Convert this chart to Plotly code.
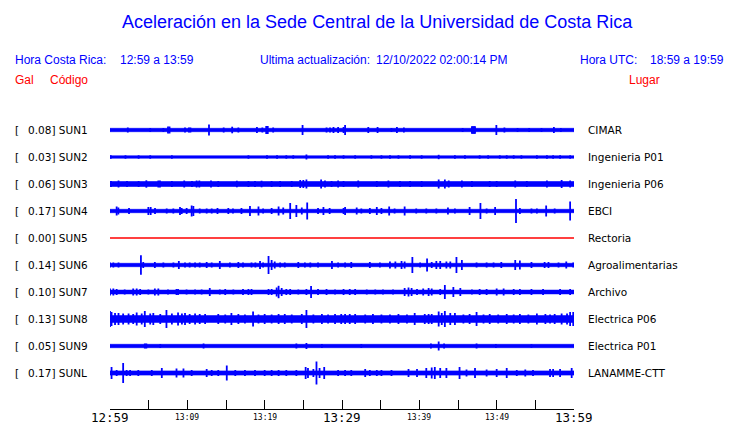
import plotly.graph_objects as go

# ---------------- data ----------------
CODES = ["SUN1", "SUN2", "SUN3", "SUN4", "SUN5", "SUN6", "SUN7", "SUN8", "SUN9", "SUNL"]
PLACES = ["CIMAR", "Ingenieria P01", "Ingenieria P06", "EBCI", "Rectoria",
          "Agroalimentarias", "Archivo", "Electrica P06", "Electrica P01", "LANAMME-CTT"]
PEAK_GAL = [0.08, 0.03, 0.06, 0.17, 0.00, 0.14, 0.10, 0.13, 0.05, 0.17]
# background noise half-amplitude of each trace (display units, 27 = trace spacing)
BASE_AMP = [1.7, 1.2, 2.5, 1.7, 0.0, 1.7, 1.9, 3.4, 1.7, 2.1]

# bursts: (minutes after 12:59, half-amplitude in display units)
SPK_SUN1 = [(2.3, 2.5), (5.2, 2), (6.9, 2), (7.5, 3.5), (7.7, 3.5), (9.7, 2.5), (10.2, 2.5), (10.4, 2.5),
            (12.8, 5.5), (14.7, 2.5), (15.8, 3.3), (16.6, 2.5), (19.0, 3), (19.7, 2.5), (20.2, 4),
            (20.4, 4), (21.1, 2.5), (24.9, 5), (28.0, 2.5), (28.45, 2.5), (28.9, 3), (29.5, 3),
            (30.2, 3), (30.4, 5), (33.4, 3), (34.6, 3), (36.4, 2), (37.1, 3), (38.0, 2.5), (45.6, 2),
            (46.8, 3.7), (46.9, 3.7), (47.0, 3.7), (47.1, 3.7), (47.2, 3.7), (49.96, 5), (51.0, 2.5),
            (52.7, 2), (54.2, 2), (55.8, 2), (57.4, 3), (58.3, 2)]
SPK_SUN2 = [(0.1, 1.7), (2.0, 1.7), (3.7, 1.7), (5.2, 1.7), (8.0, 1.7), (17.9, 1.7), (20.3, 1.7),
            (21.6, 1.7), (22.8, 1.7), (23.7, 1.7), (25.4, 2.5), (28.2, 1.7), (29.1, 1.7), (30.2, 1.7),
            (31.7, 1.7), (33.8, 1.7), (35.1, 1.7), (36.2, 1.7), (37.3, 1.7), (38.8, 1.7), (40.3, 1.7),
            (42.5, 2.2), (44.6, 1.7), (45.9, 1.7), (47.8, 1.7), (48.9, 1.7), (50.4, 1.7), (51.3, 1.7),
            (52.2, 1.7), (53.2, 1.7), (55.2, 1.7), (56.5, 1.7), (57.3, 1.7), (58.2, 1.7), (59.5, 1.7)]
SPK_SUN3 = [(0.13, 3), (1.1, 3.5), (2.2, 3), (3.7, 3), (4.7, 3.7), (6.25, 3.5), (6.46, 3.5), (8.0, 3),
            (9.6, 3.5), (10.6, 3), (11.2, 3.5), (11.55, 3.5), (13.06, 3.5), (14.0, 3), (16.4, 3.3),
            (17.9, 3), (18.75, 3), (19.6, 3.3), (20.9, 3), (22.0, 3), (23.5, 3), (24.6, 4), (25.0, 4),
            (25.4, 4.5), (27.3, 4.5), (27.8, 3.5), (28.65, 3), (29.5, 3.5), (30.2, 3), (32.1, 3.5),
            (34.5, 3), (36.0, 3.5), (37.5, 3), (38.8, 3), (40.3, 3), (42.5, 4.5), (43.3, 4.5),
            (43.8, 3.5), (45.5, 3.5), (46.8, 3), (49.1, 3), (50.0, 3), (52.4, 3.5), (53.9, 3),
            (56.5, 3.5), (58.4, 4), (59.5, 3.5)]
SPK_SUN4 = [(0.86, 4.5), (1.08, 3.5), (2.46, 3), (4.96, 4), (5.26, 4), (5.82, 3), (7.33, 2.5),
            (8.19, 2.5), (9.05, 4), (9.27, 3), (9.91, 3), (10.56, 5.5), (10.78, 5), (11.6, 2.5),
            (12.5, 2.5), (13.15, 2.5), (13.9, 3), (15.3, 3), (15.9, 2.5), (17.0, 3), (18.1, 5),
            (19.2, 4.5), (19.8, 2.5), (20.9, 3), (21.8, 4.5), (22.4, 3.5), (23.3, 8), (24.1, 6),
            (24.8, 3.5), (25.5, 8.5), (26.9, 3), (27.6, 4), (28.4, 3), (30.2, 3), (30.4, 4),
            (31.9, 3.5), (32.5, 2.5), (33.6, 3), (34.5, 4), (35.1, 3), (36.1, 4.5), (36.8, 2.5),
            (38.1, 4.5), (39.6, 2.5), (40.9, 2.5), (42.2, 2.5), (43.7, 3.5), (44.6, 2.5), (46.5, 4),
            (47.9, 8), (48.7, 2.5), (49.8, 4), (52.5, 12), (53.0, 3), (54.5, 2.5), (55.2, 2.5),
            (56.4, 5.5), (57.5, 2.5), (59.5, 9.5)]
SPK_SUN5 = []
SPK_SUN6 = [(0.0, 2.5), (0.43, 2.5), (1.1, 2.5), (4.0, 9.7), (4.3, 3), (5.8, 3), (6.9, 2.5), (8.2, 2.5),
            (8.9, 4), (9.7, 2.5), (10.3, 2.5), (11.0, 2.5), (11.6, 2.5), (12.5, 3), (13.15, 2.5),
            (14.2, 4), (15.5, 2.5), (16.6, 3), (17.2, 2.5), (18.3, 2.5), (18.8, 2.5), (19.4, 4),
            (19.8, 2.5), (20.5, 9), (20.9, 5), (21.3, 3.5), (22.0, 2.5), (22.6, 2.5), (24.35, 3),
            (25.2, 2.5), (25.9, 2.5), (26.9, 2.5), (28.7, 4), (29.5, 2.5), (30.4, 2.5), (31.2, 3),
            (33.6, 3), (34.9, 2.5), (36.2, 3.5), (36.9, 3.5), (37.7, 4), (38.1, 3.5), (39.1, 8),
            (40.1, 2.5), (41.0, 6.5), (41.6, 3), (42.2, 4), (42.7, 4), (43.5, 3.5), (44.0, 3.5),
            (44.8, 8), (45.5, 5), (47.4, 2.5), (48.7, 2.5), (49.6, 2.5), (50.6, 3), (52.4, 5),
            (53.0, 4.5), (54.5, 3), (56.2, 3), (56.7, 3), (58.0, 2.5), (59.0, 3.5), (59.9, 2.5)]
SPK_SUN7 = [(0.0, 3.5), (0.43, 3.5), (0.86, 3), (1.9, 2.5), (3.0, 3.5), (3.45, 3.5), (3.9, 3),
            (4.96, 2.5), (5.8, 3.5), (6.25, 3.5), (7.5, 2.5), (8.6, 3), (8.8, 3), (9.9, 2.5),
            (11.0, 2.5), (11.85, 2.5), (12.9, 4), (14.2, 2.5), (14.9, 3), (15.95, 2.5), (17.2, 3),
            (17.9, 3), (18.3, 3), (20.5, 3), (20.9, 3), (21.55, 4.5), (21.8, 6.2), (22.2, 4),
            (22.8, 3), (23.3, 3), (24.35, 2.5), (25.4, 3), (26.0, 6), (26.9, 3), (28.0, 3),
            (29.1, 2.5), (30.2, 3), (31.0, 3), (31.7, 3), (33.2, 2.5), (34.3, 2.5), (35.3, 2.5),
            (36.6, 2.5), (38.1, 4), (38.6, 4.5), (39.0, 4), (39.7, 3), (40.5, 3.5), (41.2, 4),
            (41.6, 3.5), (42.7, 3), (43.3, 7), (44.4, 5), (45.3, 4), (46.8, 2.5), (47.8, 3),
            (48.7, 3), (50.0, 3.5), (50.9, 3.5), (52.2, 3), (53.0, 3), (54.5, 3), (56.0, 3),
            (58.2, 3), (59.5, 3)]
SPK_SUN8 = [(0.0, 8), (0.2, 7), (0.65, 6), (1.1, 6), (1.7, 5.5), (2.4, 5.5), (3.0, 5), (3.45, 6.5),
            (4.1, 5.5), (4.5, 8), (5.2, 5.5), (5.6, 6), (6.5, 5), (7.3, 9), (8.0, 5.5), (8.8, 6.5),
            (9.3, 5.5), (9.7, 6), (10.3, 5), (11.0, 5.5), (11.6, 5), (12.3, 5), (14.0, 5),
            (14.9, 4.5), (15.7, 6), (16.6, 5), (17.45, 4.5), (18.5, 7.5), (19.2, 4.5), (20.0, 5),
            (20.9, 4.5), (21.8, 5), (22.6, 5), (23.5, 4.5), (24.8, 5), (25.4, 9), (26.3, 4.5),
            (27.4, 5), (28.2, 4.5), (29.1, 5), (29.9, 5), (30.4, 5), (31.0, 5), (31.7, 5), (33.0, 4.5),
            (34.0, 5), (35.1, 4.5), (36.2, 4.5), (37.3, 5), (38.4, 4.5), (39.4, 6), (40.7, 5),
            (41.2, 5), (41.6, 5), (42.5, 7.5), (42.9, 6), (43.3, 8), (44.0, 6), (44.6, 6), (45.7, 4.5),
            (46.5, 5), (47.4, 7), (48.3, 4.5), (49.1, 5), (50.2, 4.5), (51.3, 5), (52.2, 4.5),
            (53.0, 5), (54.1, 4.5), (55.2, 5.5), (56.3, 5), (56.9, 4.5), (57.5, 5), (58.4, 5.5),
            (59.1, 5.5), (59.5, 7), (59.9, 7)]
SPK_SUN9 = [(4.5, 2.5), (4.7, 2.5), (6.5, 2), (12.1, 2.5), (24.1, 2.5), (25.4, 3), (27.4, 2),
            (32.5, 2), (41.5, 2.5), (42.5, 4.5), (43.2, 2.5), (47.4, 2.5), (49.9, 2), (54.5, 1.8)]
SPK_SUNL = [(0.2, 6), (0.86, 3), (1.7, 10), (2.15, 3), (2.6, 3), (3.66, 3), (5.4, 3), (6.7, 5),
            (8.6, 4.5), (9.5, 4.5), (10.56, 3), (12.5, 4), (13.15, 3), (14.0, 3), (15.1, 7.5),
            (16.2, 3), (17.45, 3), (18.75, 3), (20.0, 3), (20.9, 3), (21.8, 3), (22.8, 3), (24.1, 3),
            (25.3, 6), (25.6, 5), (26.3, 4), (26.7, 11.5), (27.1, 5), (27.7, 6), (29.5, 3), (30.4, 3),
            (31.2, 3), (33.0, 4), (33.6, 3), (34.5, 3), (35.1, 3), (36.4, 3), (38.6, 4), (39.7, 4),
            (40.9, 5), (41.6, 5.5), (42.0, 6), (42.7, 5), (43.5, 5), (45.2, 6), (46.1, 3.5),
            (47.2, 5), (48.7, 3.5), (50.0, 4), (51.3, 5), (52.6, 3), (53.7, 3.5), (54.7, 3),
            (56.9, 4), (57.3, 4), (58.2, 4), (59.7, 5)]
SPIKES = [SPK_SUN1, SPK_SUN2, SPK_SUN3, SPK_SUN4, SPK_SUN5,
          SPK_SUN6, SPK_SUN7, SPK_SUN8, SPK_SUN9, SPK_SUNL]

TICK_MIN = list(range(0, 61, 5))
LABEL_MIN = [0, 10, 20, 30, 40, 50, 60]
LABEL_TXT = ["12:59", "13:09", "13:19", "13:29", "13:39", "13:49", "13:59"]
LABEL_BIG = [True, False, False, True, False, False, True]

TITLE = "Aceleración en la Sede Central de la Universidad de Costa Rica"
UPDATED = "12/10/2022 02:00:14 PM"
HORA_CR = "12:59 a 13:59"
HORA_UTC = "18:59 a 19:59"

# ---------------- figure ----------------
W, H = 740, 423
UNIT = 27.0  # display units per trace slot
BLUE = "#0000ff"
RED = "#ff0000"

fig = go.Figure()
for i, code in enumerate(CODES):
    c = i
    if code == "SUN5":
        fig.add_trace(go.Scatter(x=[0, 60], y=[c, c], mode="lines",
                                 line=dict(color=RED, width=1.5), hoverinfo="skip"))
        continue
    b = BASE_AMP[i] / UNIT
    fig.add_trace(go.Scatter(x=[0, 60, 60, 0, 0], y=[c - b, c - b, c + b, c + b, c - b],
                             mode="lines", fill="toself", fillcolor=BLUE,
                             line=dict(color=BLUE, width=0.6), hoverinfo="skip"))
    xs, ys = [], []
    for t, a in SPIKES[i]:
        xs += [t, t, None]
        ys += [c - a / UNIT, c + a / UNIT, None]
    fig.add_trace(go.Scatter(x=xs, y=ys, mode="lines",
                             line=dict(color=BLUE, width=1.8), hoverinfo="skip"))

ann = []
def px_x(p):
    return p / W
def px_y(p):
    return 1 - p / H

def txt(x, y, s, color, size, family="Liberation Sans, Arial, sans-serif", xanchor="left",
        xref="paper", height=None):
    d = dict(x=x, y=y, xref=xref, yref="paper", text=s, showarrow=False,
             xanchor=xanchor, yanchor="middle", borderpad=0,
             font=dict(color=color, size=size, family=family))
    if height is not None:
        d["height"] = height
    ann.append(d)

txt(px_x(377), px_y(22), TITLE, BLUE, 18, xanchor="center")
txt(px_x(14), px_y(60), "Hora Costa Rica:", BLUE, 12)
txt(px_x(119), px_y(60), HORA_CR, BLUE, 12)
txt(px_x(259), px_y(60), "Ultima actualización:", BLUE, 12)
txt(px_x(375), px_y(60), UPDATED, BLUE, 12)
txt(px_x(579), px_y(60), "Hora UTC:", BLUE, 12)
txt(px_x(649), px_y(60), HORA_UTC, BLUE, 12)
txt(px_x(14), px_y(80), "Gal", RED, 12)
txt(px_x(49), px_y(80), "Código", RED, 12)
txt(px_x(628), px_y(80), "Lugar", RED, 12)

DJ = "DejaVu Sans, sans-serif"
MONO = "DejaVu Sans Mono, monospace"
for i, code in enumerate(CODES):
    yy = px_y(130 + 27 * i)
    txt(px_x(14), yy, "[", "black", 10.5, DJ)
    txt(px_x(26.7), yy, f"{PEAK_GAL[i]:.2f}] {code}", "black", 10.5, DJ)
    txt(px_x(586.5), yy, PLACES[i], "black", 10.5, DJ)

for m, s, big in zip(LABEL_MIN, LABEL_TXT, LABEL_BIG):
    txt(m, px_y(416.5), s, "black", 12.5 if big else 8, MONO, xanchor="center", xref="x", height=12)

y_top = -130 / UNIT
y_bot = (H - 130) / UNIT
fig.update_layout(
    width=W, height=H, margin=dict(l=0, r=0, t=0, b=0),
    paper_bgcolor="white", plot_bgcolor="white", showlegend=False,
    annotations=ann,
    xaxis=dict(domain=[110 / W, 574 / W], range=[0, 60], showgrid=False, zeroline=False,
               showline=True, linecolor="black", linewidth=1, ticks="inside", ticklen=9,
               tickcolor="black", tickvals=TICK_MIN, showticklabels=False,
               anchor="free", position=(H - 409) / H, fixedrange=True),
    yaxis=dict(domain=[0, 1], range=[y_bot, y_top], visible=False, fixedrange=True),
)
fig.write_html("out.html", config={"displayModeBar": False},
               post_script="document.body.style.margin='0px';document.body.style.overflow='hidden';")
